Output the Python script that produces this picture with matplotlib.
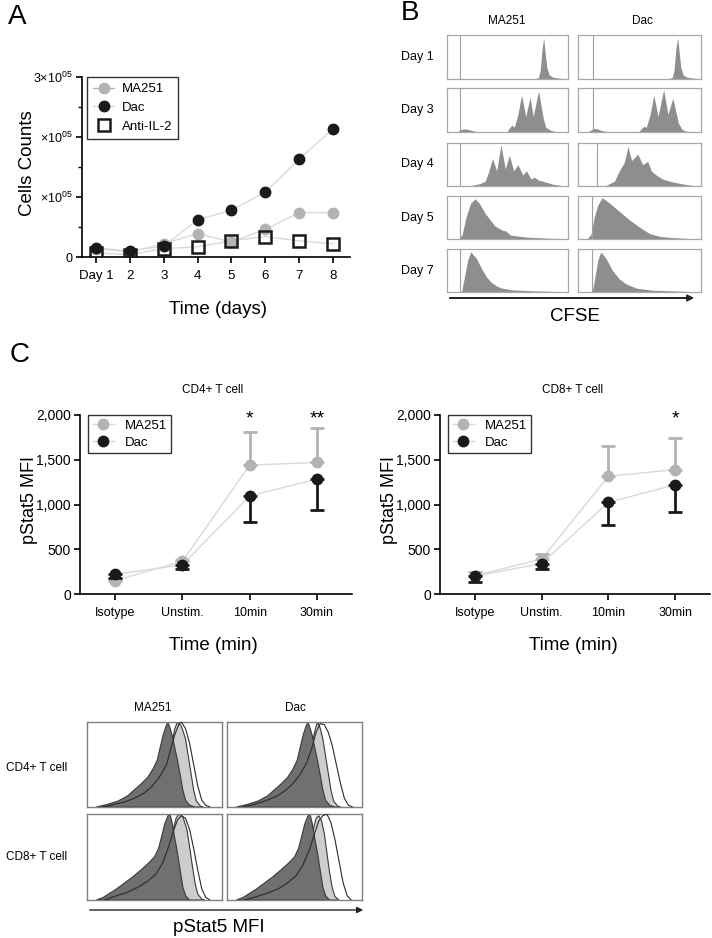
import matplotlib
matplotlib.use('Agg')
import matplotlib.pyplot as plt
from matplotlib.patches import Polygon

plt.rcParams['font.family'] = ['Liberation Sans', 'DejaVu Sans']
plt.rcParams['mathtext.fontset'] = 'custom'
plt.rcParams['mathtext.rm'] = 'Liberation Sans'
plt.rcParams['mathtext.it'] = 'Liberation Sans:italic'

W, H = 712, 938

# ---- panel A : cell counts ----
days = [1, 2, 3, 4, 5, 6, 7, 8]
day_labels = ['Day 1', '2', '3', '4', '5', '6', '7', '8']
cells_ma251 = [14000, 8000, 22000, 39000, 25000, 46000, 74000, 74000]
cells_dac = [15000, 10000, 18000, 62000, 78000, 108000, 163000, 214000]
cells_anti = [7000, 4000, 14000, 17000, 27000, 34000, 27000, 22000]
a_yticks = [0, 100000, 200000, 300000]
a_ylabels = ['0', r'$\times10^{05}$', r'$\times10^{05}$', r'3$\times10^{05}$']

# ---- panel B : CFSE histograms (x, height) ----
cfse_rows = ['Day 1', 'Day 3', 'Day 4', 'Day 5', 'Day 7']
cfse_gate_ma251 = [0.11, 0.11, 0.11, 0.11, 0.11]
cfse_gate_dac = [0.125, 0.125, 0.155, 0.115, 0.115]
cfse_ma251_d1 = [(0.73, 0), (0.76, 0.02), (0.775, 0.2), (0.79, 0.7), (0.803, 0.95), (0.815, 0.6),
                 (0.83, 0.25), (0.85, 0.08), (0.88, 0.03), (0.93, 0.01), (0.96, 0)]
cfse_dac_d1 = [(0.74, 0), (0.77, 0.02), (0.785, 0.2), (0.80, 0.7), (0.815, 0.95), (0.827, 0.6),
               (0.84, 0.25), (0.86, 0.08), (0.89, 0.03), (0.94, 0.01), (0.97, 0)]
cfse_ma251_d3 = [(0.09, 0), (0.12, 0.05), (0.16, 0.06), (0.2, 0.03), (0.25, 0), (0.5, 0), (0.52, 0.08),
                 (0.54, 0.15), (0.56, 0.1), (0.59, 0.4), (0.62, 0.85), (0.655, 0.35), (0.69, 0.8),
                 (0.717, 0.35), (0.76, 0.95), (0.8, 0.3), (0.82, 0.1), (0.86, 0.03), (0.9, 0)]
cfse_dac_d3 = [(0.09, 0), (0.13, 0.07), (0.16, 0.06), (0.2, 0.02), (0.24, 0), (0.5, 0), (0.52, 0.07),
               (0.54, 0.12), (0.56, 0.1), (0.59, 0.4), (0.62, 0.85), (0.655, 0.35), (0.70, 0.98),
               (0.735, 0.4), (0.775, 0.78), (0.82, 0.2), (0.85, 0.05), (0.88, 0.01), (0.91, 0)]
cfse_ma251_d4 = [(0.2, 0), (0.27, 0.04), (0.32, 0.1), (0.345, 0.3), (0.38, 0.65), (0.415, 0.35),
                 (0.45, 0.98), (0.485, 0.4), (0.52, 0.72), (0.555, 0.35), (0.59, 0.5), (0.63, 0.25),
                 (0.66, 0.35), (0.70, 0.15), (0.725, 0.2), (0.76, 0.13), (0.8, 0.1), (0.88, 0.03), (0.95, 0)]
cfse_dac_d4 = [(0.23, 0), (0.3, 0.1), (0.34, 0.35), (0.38, 0.55), (0.41, 0.93), (0.44, 0.6),
               (0.49, 0.75), (0.53, 0.5), (0.57, 0.58), (0.60, 0.35), (0.64, 0.25), (0.695, 0.15),
               (0.78, 0.08), (0.89, 0.02), (0.94, 0)]
cfse_ma251_d5 = [(0.105, 0), (0.13, 0.1), (0.16, 0.5), (0.2, 0.85), (0.235, 0.95), (0.27, 0.85),
                 (0.32, 0.6), (0.36, 0.45), (0.40, 0.3), (0.43, 0.25), (0.46, 0.2), (0.49, 0.18),
                 (0.53, 0.08), (0.585, 0.06), (0.68, 0.03), (0.82, 0.01), (0.95, 0)]
cfse_dac_d5 = [(0.08, 0), (0.11, 0.1), (0.135, 0.5), (0.165, 0.8), (0.2, 0.98), (0.26, 0.85),
               (0.34, 0.65), (0.42, 0.45), (0.5, 0.28), (0.585, 0.12), (0.67, 0.05), (0.78, 0.02), (0.91, 0)]
cfse_ma251_d7 = [(0.125, 0), (0.145, 0.3), (0.175, 0.75), (0.2, 0.95), (0.245, 0.8), (0.29, 0.55),
                 (0.33, 0.35), (0.37, 0.22), (0.415, 0.13), (0.46, 0.08), (0.54, 0.04), (0.68, 0.02), (0.91, 0)]
cfse_dac_d7 = [(0.12, 0), (0.145, 0.4), (0.165, 0.75), (0.19, 0.95), (0.23, 0.8), (0.285, 0.5),
               (0.34, 0.3), (0.395, 0.18), (0.48, 0.08), (0.61, 0.03), (0.83, 0.01), (0.91, 0)]
cfse_ma251 = [cfse_ma251_d1, cfse_ma251_d3, cfse_ma251_d4, cfse_ma251_d5, cfse_ma251_d7]
cfse_dac = [cfse_dac_d1, cfse_dac_d3, cfse_dac_d4, cfse_dac_d5, cfse_dac_d7]

# ---- panel C : pStat5 MFI ----
cats = ['Isotype', 'Unstim.', '10min', '30min']
cd4_ma251 = [150, 365, 1440, 1470]
cd4_ma251_err = [20, 20, 370, 385]
cd4_dac = [220, 325, 1095, 1285]
cd4_dac_err = [45, 50, 295, 345]
cd4_stars = ['', '', '*', '**']
cd8_ma251 = [205, 390, 1315, 1390]
cd8_ma251_err = [45, 60, 340, 355]
cd8_dac = [200, 340, 1025, 1220]
cd8_dac_err = [70, 60, 252, 302]
cd8_stars = ['', '', '', '*']
c_yticks = [0, 500, 1000, 1500, 2000]
c_ylabels = ['0', '500', '1,000', '1,500', '2,000']

# ---- bottom : pStat5 histograms (dark fill, light fill, open outline) ----
hist_dark_cd4 = [(0.07, 0), (0.15, 0.03), (0.23, 0.07), (0.3, 0.13), (0.35, 0.2), (0.4, 0.27), (0.45, 0.35),
                 (0.49, 0.45), (0.52, 0.55), (0.545, 0.72), (0.565, 0.85), (0.585, 0.95), (0.6, 1.0),
                 (0.615, 0.93), (0.63, 0.85), (0.65, 0.7), (0.67, 0.55), (0.69, 0.38), (0.71, 0.2),
                 (0.73, 0.08), (0.76, 0.02), (0.8, 0)]
hist_dark_cd8 = [(0.07, 0), (0.12, 0.03), (0.16, 0.07), (0.22, 0.13), (0.28, 0.2), (0.34, 0.27), (0.4, 0.35),
                 (0.45, 0.42), (0.5, 0.5), (0.53, 0.6), (0.555, 0.75), (0.575, 0.88), (0.6, 0.98),
                 (0.615, 1.0), (0.63, 0.9), (0.65, 0.72), (0.67, 0.55), (0.69, 0.35), (0.71, 0.15),
                 (0.73, 0.05), (0.76, 0)]
hist_light_cd4_ma251 = [(0.2, 0), (0.3, 0.05), (0.4, 0.12), (0.48, 0.22), (0.55, 0.38), (0.6, 0.55),
                        (0.63, 0.75), (0.65, 0.92), (0.67, 1.0), (0.70, 0.95), (0.73, 0.8), (0.75, 0.6),
                        (0.77, 0.4), (0.79, 0.2), (0.81, 0.07), (0.84, 0.01), (0.86, 0)]
hist_light_cd4_dac = [(0.2, 0), (0.3, 0.05), (0.4, 0.12), (0.48, 0.22), (0.55, 0.38), (0.6, 0.55),
                      (0.63, 0.75), (0.655, 0.92), (0.67, 1.0), (0.69, 0.93), (0.71, 0.8), (0.73, 0.6),
                      (0.75, 0.4), (0.77, 0.2), (0.79, 0.07), (0.82, 0.01), (0.84, 0)]
hist_light_cd8_ma251 = [(0.2, 0), (0.3, 0.06), (0.4, 0.14), (0.48, 0.25), (0.55, 0.4), (0.6, 0.6),
                        (0.635, 0.8), (0.66, 0.95), (0.68, 1.0), (0.71, 0.97), (0.74, 0.82), (0.76, 0.62),
                        (0.78, 0.4), (0.80, 0.2), (0.82, 0.07), (0.85, 0.01), (0.87, 0)]
hist_light_cd8_dac = [(0.2, 0), (0.3, 0.06), (0.4, 0.13), (0.48, 0.24), (0.55, 0.4), (0.6, 0.58),
                      (0.635, 0.8), (0.66, 0.95), (0.68, 0.98), (0.70, 0.92), (0.72, 0.78), (0.74, 0.55),
                      (0.76, 0.32), (0.78, 0.14), (0.80, 0.04), (0.83, 0)]
hist_open_cd4_ma251 = [(0.12, 0), (0.2, 0.03), (0.28, 0.06), (0.36, 0.11), (0.42, 0.16), (0.48, 0.24),
                       (0.54, 0.36), (0.59, 0.5), (0.62, 0.68), (0.65, 0.85), (0.68, 0.97), (0.7, 1.0),
                       (0.73, 0.92), (0.76, 0.75), (0.79, 0.5), (0.82, 0.25), (0.85, 0.08), (0.88, 0.02), (0.91, 0)]
hist_open_cd4_dac = [(0.12, 0), (0.2, 0.03), (0.28, 0.07), (0.36, 0.12), (0.42, 0.18), (0.48, 0.26),
                     (0.54, 0.38), (0.59, 0.52), (0.63, 0.7), (0.66, 0.88), (0.69, 0.98), (0.72, 0.97),
                     (0.75, 0.88), (0.78, 0.72), (0.81, 0.5), (0.84, 0.28), (0.87, 0.1), (0.9, 0.02), (0.93, 0)]
hist_open_cd8_ma251 = [(0.13, 0), (0.22, 0.05), (0.3, 0.09), (0.38, 0.15), (0.45, 0.22), (0.51, 0.3),
                       (0.56, 0.43), (0.6, 0.6), (0.64, 0.8), (0.67, 0.93), (0.7, 0.98), (0.73, 0.95),
                       (0.76, 0.82), (0.79, 0.6), (0.82, 0.35), (0.85, 0.13), (0.88, 0.03), (0.91, 0)]
hist_open_cd8_dac = [(0.13, 0), (0.22, 0.04), (0.3, 0.08), (0.38, 0.13), (0.45, 0.2), (0.51, 0.28),
                     (0.56, 0.4), (0.61, 0.58), (0.65, 0.78), (0.68, 0.92), (0.71, 0.98), (0.74, 1.0),
                     (0.77, 0.9), (0.8, 0.7), (0.83, 0.45), (0.86, 0.2), (0.89, 0.05), (0.92, 0)]

GRAY = '#b3b3b3'
BLACK = '#1a1a1a'
LINE = '#d9d9d9'


def rect(l, t, r, b):
    return [l / W, 1 - b / H, (r - l) / W, (b - t) / H]


def ftext(x, y, s, **kw):
    fig.text(x / W, 1 - y / H, s, ha='center', va='center', **kw)


def farrow(x0, x1, y, lw):
    fig.add_artist(matplotlib.patches.FancyArrowPatch(
        (x0 / W, 1 - y / H), (x1 / W, 1 - y / H), transform=fig.transFigure,
        arrowstyle='-|>', mutation_scale=9, lw=lw, color='#222222'))


def style_axes(ax):
    for s in ['top', 'right']:
        ax.spines[s].set_visible(False)
    for s in ['left', 'bottom']:
        ax.spines[s].set_linewidth(1.2)
    ax.tick_params(width=1.2, length=4.5, direction='out', pad=2)
    ax.tick_params(axis='x', pad=5)


def fill_hist(ax, pts, color, edge=None, lw=0.8, z=1):
    poly = Polygon(pts, closed=True, facecolor=color, edgecolor=edge or 'none', lw=lw, zorder=z)
    ax.add_patch(poly)


fig = plt.figure(figsize=(W / 100, H / 100), dpi=100)

# ---------- A ----------
ax = fig.add_axes(rect(82, 77, 350, 257))
style_axes(ax)
ax.plot(days, cells_ma251, '-', color=LINE, lw=1, zorder=1)
ax.plot(days, cells_dac, '-', color=LINE, lw=1, zorder=1)
ax.plot(days, cells_anti, '-', color=LINE, lw=1, zorder=1)
ax.plot(days, cells_ma251, 'o', color=GRAY, ms=7.5, zorder=2)
ax.plot(days, cells_dac, 'o', color=BLACK, ms=7.5, zorder=3)
ax.plot(days, cells_anti, 's', mfc='none', mec=BLACK, mew=1.8, ms=8, zorder=4)
h1, = ax.plot([], [], 'o-', color=GRAY, mfc=GRAY, mec=GRAY, ms=7.5, lw=1)
h2, = ax.plot([], [], 'o-', color=LINE, mfc=BLACK, mec=BLACK, ms=7.5, lw=1)
h3, = ax.plot([], [], 's', mfc='white', mec=BLACK, mew=1.8, ms=8)
leg = ax.legend([h1, h2, h3], ['MA251', 'Dac', 'Anti-IL-2'], loc='upper left',
                bbox_to_anchor=(0.019, 1.0), borderaxespad=0, fancybox=False,
                edgecolor='black', fontsize=9.5, handlelength=1.6, borderpad=0.45,
                labelspacing=0.5, handletextpad=0.6)
leg.get_frame().set_linewidth(1.0)
ax.set_xlim(0.59, 8.5)
ax.set_ylim(0, 300000)
ax.set_xticks(days)
ax.set_xticklabels(day_labels, fontsize=9.5)
ax.set_yticks(a_yticks)
ax.set_yticklabels(a_ylabels, fontsize=9)
ax.set_yticks([50000, 150000, 250000], minor=True)
ax.tick_params(axis='y', which='minor', length=3, width=1)
ftext(17, 17, 'A', fontsize=20)
ftext(28, 163, 'Cells Counts', fontsize=13.5, rotation=90)
ftext(218, 309, 'Time (days)', fontsize=13.5)

# ---------- B ----------
ftext(410, 13, 'B', fontsize=20)
ftext(507, 21, 'MA251', fontsize=8.5)
ftext(642, 21, 'Dac', fontsize=8.5)
row_tb = [(35, 79), (88, 132), (143, 186), (196, 239), (249, 292)]
for i, (t, b) in enumerate(row_tb):
    ftext(417, (t + b) / 2, cfse_rows[i], fontsize=9)
    for (l, r), hist, gate in [((447, 568), cfse_ma251[i], cfse_gate_ma251[i]),
                               ((578, 701), cfse_dac[i], cfse_gate_dac[i])]:
        hx = fig.add_axes(rect(l, t, r, b))
        hx.set_xlim(0, 1)
        hx.set_ylim(0, 1.03)
        hx.set_xticks([])
        hx.set_yticks([])
        for s in hx.spines.values():
            s.set_color('#a8a8a8')
            s.set_linewidth(0.9)
        hx.axvline(gate, color='#a0a0a0', lw=0.8)
        fill_hist(hx, hist, '#8e8e8e')
farrow(447, 697, 298, 1.4)
ftext(575, 316, 'CFSE', fontsize=13.5)

# ---------- C ----------
ftext(20, 355, 'C', fontsize=20)
xs = [0, 1, 2, 3]
for (l, r, ttl_x, title, ma, ma_e, dc, dc_e, stars) in [
        (80, 352, 213, 'CD4+ T cell', cd4_ma251, cd4_ma251_err, cd4_dac, cd4_dac_err, cd4_stars),
        (440, 710, 573, 'CD8+ T cell', cd8_ma251, cd8_ma251_err, cd8_dac, cd8_dac_err, cd8_stars)]:
    ax = fig.add_axes(rect(l, 415, r, 594))
    style_axes(ax)
    ax.plot(xs, ma, '-', color=LINE, lw=1, zorder=1)
    ax.plot(xs, dc, '-', color=LINE, lw=1, zorder=1)
    ax.errorbar(xs, ma, yerr=[[0] * 4, ma_e], fmt='o', color=GRAY, ms=7.5, elinewidth=2,
                capsize=5, capthick=2, zorder=2)
    ax.errorbar(xs, dc, yerr=[dc_e, [0] * 4], fmt='o', color=BLACK, ms=7.5, elinewidth=2,
                capsize=5, capthick=2, zorder=3)
    for x, s in zip(xs, stars):
        if s:
            ax.text(x, 1905, s, ha='center', va='baseline', fontsize=14, clip_on=False)
    h1, = ax.plot([], [], 'o-', color=LINE, mfc=GRAY, mec=GRAY, ms=7.5, lw=1)
    h2, = ax.plot([], [], 'o-', color=LINE, mfc=BLACK, mec=BLACK, ms=7.5, lw=1)
    leg = ax.legend([h1, h2], ['MA251', 'Dac'], loc='upper left', bbox_to_anchor=(0.03, 1.0),
                    borderaxespad=0, fancybox=False, edgecolor='black', fontsize=9.5,
                    handlelength=1.6, borderpad=0.35, labelspacing=0.35, handletextpad=0.8)
    leg.get_frame().set_linewidth(1.0)
    ax.set_xlim(-0.52, 3.52)
    ax.set_ylim(0, 2000)
    ax.set_xticks(xs)
    ax.set_xticklabels(cats, fontsize=9)
    ax.set_yticks(c_yticks)
    ax.set_yticklabels(c_ylabels, fontsize=10)
    ftext(ttl_x, 390, title, fontsize=8.5)
    ftext(l - 51, 500, 'pStat5 MFI', fontsize=13, rotation=90)
    ftext(ttl_x, 645, 'Time (min)', fontsize=13.5)

# ---------- pStat5 histograms ----------
ftext(153, 708, 'MA251', fontsize=8.5)
ftext(295, 708, 'Dac', fontsize=8.5)
ftext(37, 768, 'CD4+ T cell', fontsize=8.5)
ftext(37, 857, 'CD8+ T cell', fontsize=8.5)
d_panels = [
    ((87, 722, 222, 807), hist_dark_cd4, hist_light_cd4_ma251, hist_open_cd4_ma251),
    ((227, 722, 362, 807), hist_dark_cd4, hist_light_cd4_dac, hist_open_cd4_dac),
    ((87, 814, 222, 900), hist_dark_cd8, hist_light_cd8_ma251, hist_open_cd8_ma251),
    ((227, 814, 362, 900), hist_dark_cd8, hist_light_cd8_dac, hist_open_cd8_dac),
]
for box, dark, light, opn in d_panels:
    hx = fig.add_axes(rect(*box))
    hx.set_xlim(0, 1)
    hx.set_ylim(0, 1.0)
    hx.set_xticks([])
    hx.set_yticks([])
    for s in hx.spines.values():
        s.set_color('#808080')
        s.set_linewidth(1.0)
    fill_hist(hx, light, '#cdcdcd', edge='#3a3a3a', z=1)
    fill_hist(hx, dark, '#707070', edge='#3a3a3a', z=2)
    ox, oy = zip(*opn)
    hx.plot(ox, oy, color='#2a2a2a', lw=0.8, zorder=3)
farrow(87, 366, 910, 1.0)
ftext(219, 927, 'pStat5 MFI', fontsize=13.5)

fig.savefig('out.png', dpi=100)
